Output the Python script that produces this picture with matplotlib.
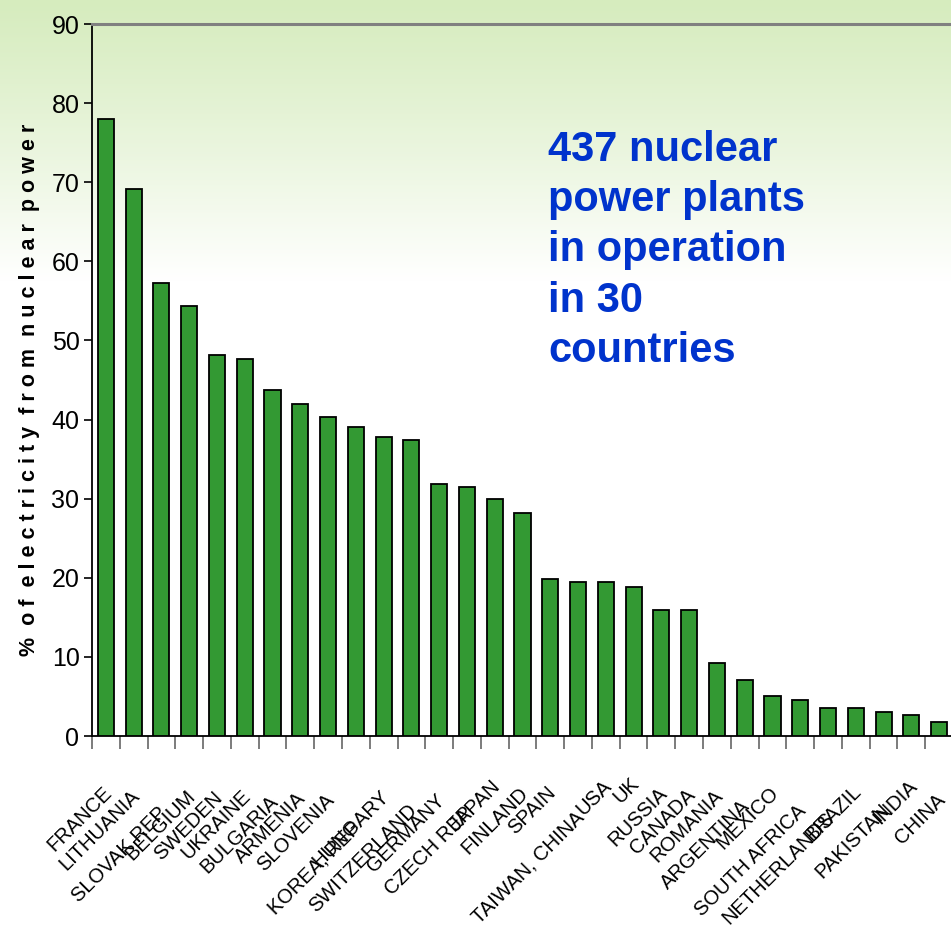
import numpy as np
import matplotlib
matplotlib.use("Agg")
import matplotlib.pyplot as plt

countries = ["FRANCE", "LITHUANIA", "SLOVAK REP", "BELGIUM", "SWEDEN", "UKRAINE",
             "BULGARIA", "ARMENIA", "SLOVENIA", "KOREA, REP", "HUNGARY", "SWITZERLAND",
             "GERMANY", "CZECH REP", "JAPAN", "FINLAND", "SPAIN", "TAIWAN, CHINA", "USA",
             "UK", "RUSSIA", "CANADA", "ROMANIA", "ARGENTINA", "MEXICO", "SOUTH AFRICA",
             "NETHERLANDS", "BRAZIL", "PAKISTAN", "INDIA", "CHINA"]
nuclear_share = [78.0, 69.2, 57.3, 54.4, 48.2, 47.7, 43.7, 42.0, 40.3, 39.1, 37.8, 37.4,
                 31.9, 31.5, 30.0, 28.2, 19.8, 19.5, 19.5, 18.8, 15.9, 15.9, 9.2, 7.1,
                 5.0, 4.5, 3.5, 3.5, 3.0, 2.7, 1.8]
y_ticks = [0, 10, 20, 30, 40, 50, 60, 70, 80, 90]
note = "437 nuclear\npower plants\nin operation\nin 30\ncountries"
ylabel = "% of electricity from nuclear power"

# layout: vertical pixel position of each label's upper end (staggered as in the source)
label_end_px = [790, 793, 810, 793, 795, 793, 798, 795, 797, 825, 793, 807, 797, 810, 783,
                790, 790, 815, 783, 780, 790, 792, 793, 803, 790, 808, 815, 788, 807, 783, 797]

W, H = 951, 934
fig = plt.figure(figsize=(W / 100, H / 100), dpi=100)

# background gradient
bg = fig.add_axes([0, 0, 1, 1], zorder=-10)
yy = np.linspace(0, 1, 400)[:, None]
t = np.clip(yy / 0.30, 0, 1) ** 1.1
top = np.array([214, 236, 190]) / 255.0
white = np.array([1.0, 1.0, 1.0])
img = top[None, None, :] * (1 - t[..., None]) + white[None, None, :] * t[..., None]
img = np.repeat(img, 10, axis=1)
bg.imshow(img, aspect="auto", extent=[0, 1, 0, 1], origin="upper")
bg.set_axis_off()

left = 92 / W
right = 953 / W
bottom = (H - 736) / H
topy = (H - 24) / H
ax = fig.add_axes([left, bottom, right - left, topy - bottom])
ax.set_facecolor("none")

x = np.arange(len(countries))
ax.bar(x, nuclear_share, width=0.58, color="#339933", edgecolor="black", linewidth=1.3, zorder=3)

sans = ["Liberation Sans", "DejaVu Sans"]
ax.set_xlim(-0.5, len(countries) - 0.5)
ax.set_ylim(0, 90)
ax.set_yticks(y_ticks)
ax.set_yticklabels([str(v) for v in y_ticks], fontsize=18, family=sans)
ax.tick_params(axis="y", direction="out", length=6, width=1.2, color="black", pad=3)
ax.set_xticks(np.arange(-0.5, len(countries), 1.0))
ax.set_xticklabels([])
ax.tick_params(axis="x", direction="out", length=9, width=1.2, color="#666666")

for s in ["left", "bottom"]:
    ax.spines[s].set_color("black")
    ax.spines[s].set_linewidth(1.3)
ax.spines["top"].set_color("#808080")
ax.spines["top"].set_linewidth(2.2)
ax.spines["right"].set_visible(False)

# rotated category labels
for i, (name, ypx) in enumerate(zip(countries, label_end_px)):
    dy_pt = -(ypx - 736) * 72 / 100
    ax.annotate(name, xy=(i, 0), xycoords=("data", "axes fraction"),
                xytext=(2, dy_pt), textcoords="offset points",
                rotation=45, rotation_mode="anchor", ha="right", va="center",
                fontsize=14.5, family=sans, color="black", annotation_clip=False)

# y label with spaced letters
spaced = "  ".join(" ".join(w) for w in ylabel.split(" "))
fig.text(30 / W, (H - 390) / H, spaced, rotation=90, ha="center", va="center",
         fontsize=15.5, fontweight="bold", family=sans)

fig.text(548 / W, (H - 130) / H, note, ha="left", va="top", color="#0033CC",
         fontsize=30, fontweight="bold", family=sans, linespacing=1.33)

fig.savefig("out.png", dpi=100)
